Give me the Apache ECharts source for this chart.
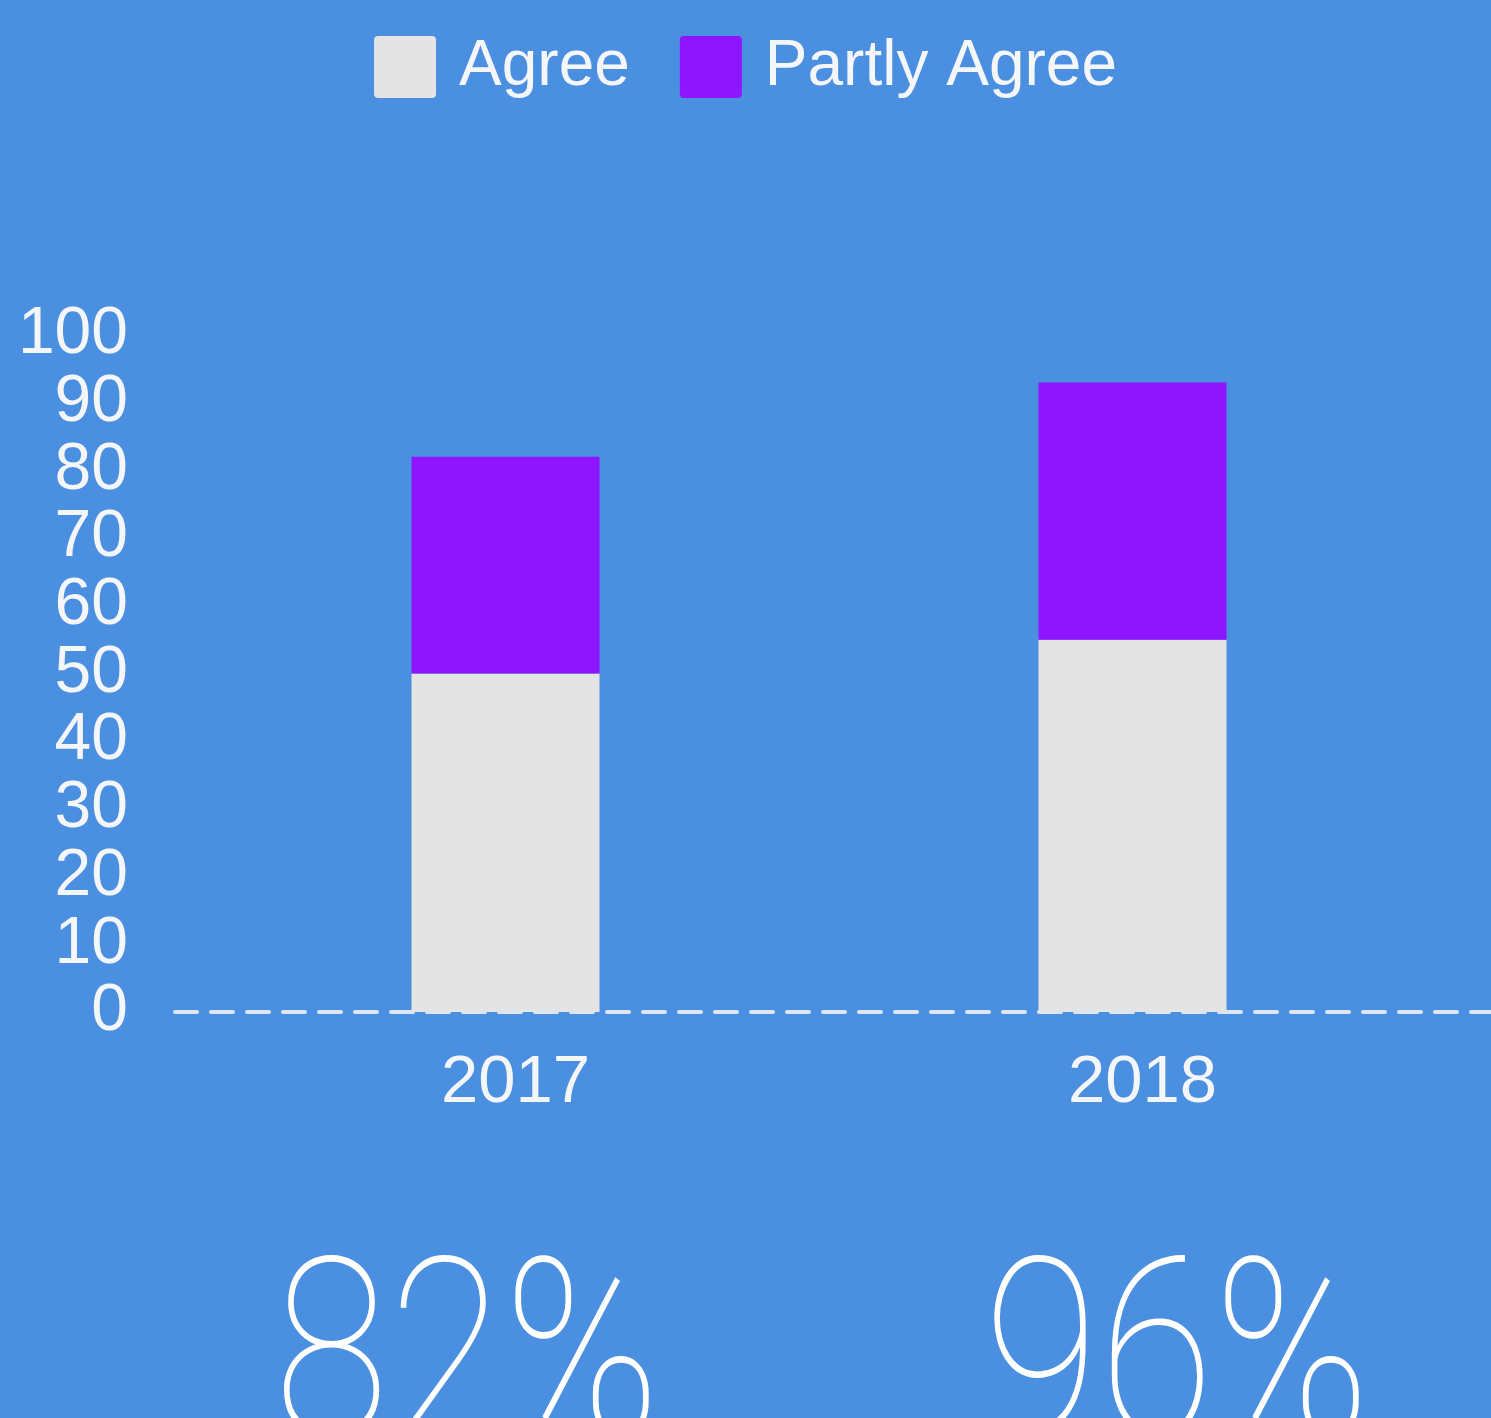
<!DOCTYPE html>
<html>
<head>
<meta charset="utf-8">
<script src="https://cdn.jsdelivr.net/npm/echarts@6/dist/echarts.min.js"></script>
<style>
html,body{margin:0;padding:0;background:#4a8fe0;}
#chart{width:1491px;height:1418px;}
</style>
</head>
<body>
<div id="chart"></div>
<script>
const categories = ['2017', '2018'];
const agree = [50, 55];
const partlyAgree = [32, 38];
const seriesNames = ['Agree', 'Partly Agree'];
const yTicks = [0, 10, 20, 30, 40, 50, 60, 70, 80, 90, 100];
const bigLabels = ['82%', '96%'];

const chart = echarts.init(document.getElementById('chart'));
const font = 'Liberation Sans, Arial, sans-serif';
const textColor = '#f4f6fa';

const option = {
  backgroundColor: '#4a8fe0',
  animation: false,
  legend: {
    top: 30,
    left: 'center',
    itemWidth: 62,
    itemHeight: 62,
    itemGap: 50,
    icon: 'path://M4,0 L58,0 Q62,0 62,4 L62,58 Q62,62 58,62 L4,62 Q0,62 0,58 L0,4 Q0,0 4,0 Z',
    textStyle: { color: textColor, fontSize: 64, fontFamily: font, padding: [4, 0, 0, 18] },
    data: seriesNames
  },
  grid: [
    { left: 192, right: 45, top: 335, bottom: 406, containLabel: false },
    { left: 175, right: 0, top: 335, bottom: 406, containLabel: false }
  ],
  xAxis: [
    {
      type: 'category', gridIndex: 0, data: categories,
      axisLine: { show: false }, axisTick: { show: false },
      axisLabel: { color: textColor, fontSize: 67, fontFamily: font, margin: 38, padding: [0, 0, 0, 20] }
    },
    {
      type: 'category', gridIndex: 1, data: categories,
      axisLine: { show: true, lineStyle: { color: '#dde6f2', width: 4, type: [22, 14] } },
      axisTick: { show: false }, axisLabel: { show: false }
    }
  ],
  yAxis: [
    {
      type: 'value', gridIndex: 0, min: 0, max: 100, interval: 10,
      axisLine: { show: false }, axisTick: { show: false }, splitLine: { show: false },
      axisLabel: {
        color: textColor, fontSize: 66, fontFamily: font, margin: 0,
        formatter: v => yTicks.includes(v) ? String(v) : '',
        align: 'right',
        showMinLabel: true, showMaxLabel: true
      },
      offset: 64
    },
    {
      type: 'value', gridIndex: 1, min: 0, max: 100, show: false
    }
  ],
  series: [
    {
      name: seriesNames[0], type: 'bar', stack: 's', data: agree,
      xAxisIndex: 0, yAxisIndex: 0,
      barWidth: 188, itemStyle: { color: '#e4e4e4' }
    },
    {
      name: seriesNames[1], type: 'bar', stack: 's', data: partlyAgree,
      xAxisIndex: 0, yAxisIndex: 0,
      barWidth: 188, itemStyle: { color: '#8f14ff' }
    }
  ],
  graphic: bigLabels.map((t, i) => ({
    type: 'text',
    x: i === 0 ? 467 : 1177,
    y: 1248,
    scaleX: 0.84,
    style: {
      text: t,
      fill: '#ffffff',
      align: 'center',
      verticalAlign: 'top',
      font: '100 250px Roboto, sans-serif'
    }
  }))
};
chart.setOption(option);
</script>
</body>
</html>
